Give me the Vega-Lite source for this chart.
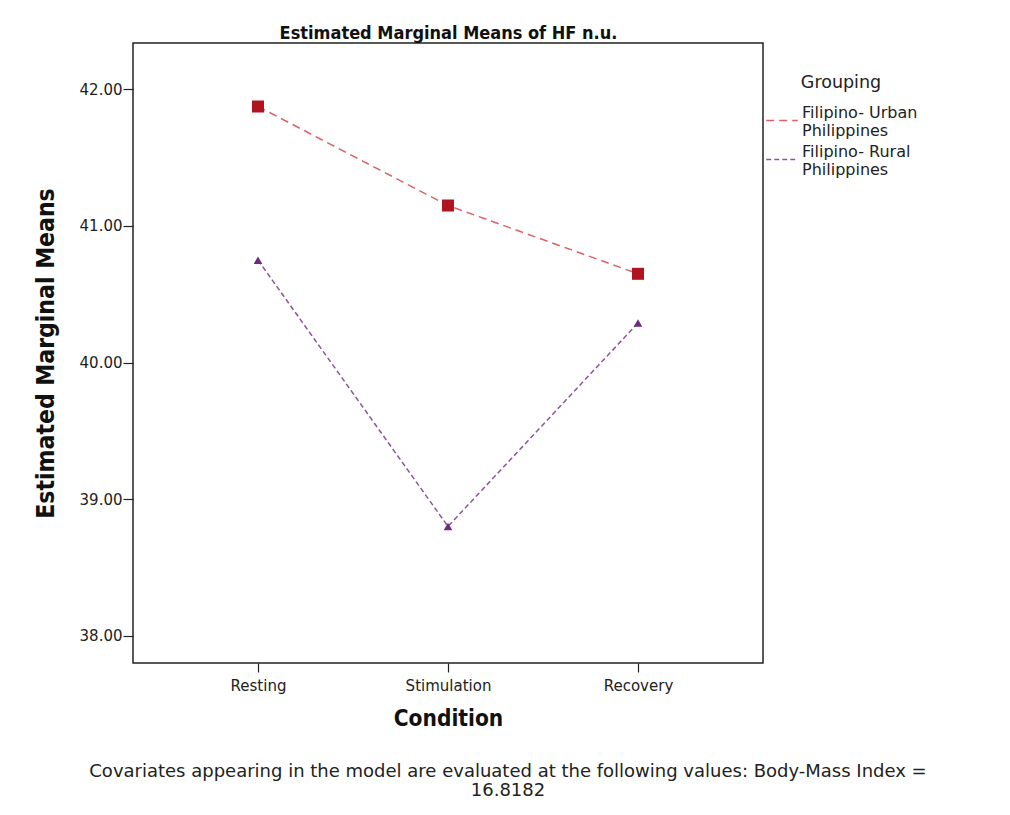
{
  "$schema": "https://vega.github.io/schema/vega-lite/v6.json",
  "width": 630,
  "height": 620,
  "autosize": "none",
  "padding": {"left": 133, "top": 43, "right": 247, "bottom": 152},
  "background": "white",
  "title": {
    "text": ["Covariates appearing in the model are evaluated at the following values: Body-Mass Index =", "16.8182"],
    "orient": "bottom",
    "anchor": "middle",
    "frame": "group",
    "offset": 33,
    "dx": 60,
    "font": "DejaVu Sans",
    "fontSize": 18,
    "fontWeight": "normal",
    "color": "#222",
    "lineHeight": 19
  },
  "data": {
    "values": [
      {"group": "Filipino- Urban Philippines", "condition": "Resting", "mean": 41.875},
      {"group": "Filipino- Urban Philippines", "condition": "Stimulation", "mean": 41.15},
      {"group": "Filipino- Urban Philippines", "condition": "Recovery", "mean": 40.65},
      {"group": "Filipino- Rural Philippines", "condition": "Resting", "mean": 40.75},
      {"group": "Filipino- Rural Philippines", "condition": "Stimulation", "mean": 38.8},
      {"group": "Filipino- Rural Philippines", "condition": "Recovery", "mean": 40.29}
    ]
  },
  "layer": [
    {
      "mark": {"type": "line", "strokeWidth": 1.5},
      "encoding": {
        "x": {
          "field": "condition", "type": "ordinal",
          "sort": ["Resting", "Stimulation", "Recovery"],
          "scale": {"type": "point", "padding": 0.658},
          "axis": {
            "orient": "bottom", "title": "Condition",
            "labelAngle": 0, "labelFont": "DejaVu Sans", "labelFontSize": 15, "labelColor": "#222",
            "labelPadding": 6, "tickSize": 9, "tickColor": "#222", "tickWidth": 1.2, "domain": false,
            "titleFont": "Liberation Sans Narrow, DejaVu Sans Condensed, Liberation Sans", "titleFontSize": 22.5, "titleFontWeight": "bold", "titleColor": "#111", "titlePadding": 14
          }
        },
        "y": {
          "field": "mean", "type": "quantitative",
          "scale": {"domain": [37.8, 42.34], "nice": false, "zero": false},
          "axis": {
            "values": [38, 39, 40, 41, 42], "format": ".2f", "grid": false, "domain": false,
            "title": "Estimated Marginal Means",
            "labelFont": "DejaVu Sans", "labelFontSize": 15, "labelColor": "#222", "labelPadding": 1,
            "tickSize": 10, "tickColor": "#222", "tickWidth": 1.2,
            "titleFont": "Liberation Sans Narrow, DejaVu Sans Condensed, Liberation Sans", "titleFontSize": 24.5, "titleFontWeight": "bold", "titleColor": "#111", "titlePadding": 21
          }
        },
        "stroke": {
          "field": "group", "type": "nominal",
          "scale": {"domain": ["Filipino- Urban Philippines", "Filipino- Rural Philippines"], "range": ["#e0606a", "#8c5599"]},
          "legend": {
            "title": "Grouping", "orient": "none", "legendX": 632, "legendY": 31,
            "titleAnchor": "middle", "titleFont": "DejaVu Sans", "titleFontSize": 17.5, "titleFontWeight": "normal", "titleColor": "#222", "titlePadding": 12,
            "symbolType": "stroke", "symbolSize": 1000, "symbolStrokeWidth": 1.5, "symbolOffset": 0,
            "labelFont": "DejaVu Sans", "labelFontSize": 16, "labelColor": "#222", "labelOffset": 3,
            "labelBaseline": "bottom",
            "labelExpr": "[replace(datum.label, ' Philippines', ''), 'Philippines']",
            "rowPadding": 4
          }
        },
        "strokeDash": {
          "field": "group", "type": "nominal",
          "scale": {"domain": ["Filipino- Urban Philippines", "Filipino- Rural Philippines"], "range": [[8, 5], [5, 3]]},
          "legend": {
            "title": "Grouping", "orient": "none", "legendX": 632, "legendY": 31,
            "titleAnchor": "middle", "titleFont": "DejaVu Sans", "titleFontSize": 17.5, "titleFontWeight": "normal", "titleColor": "#222", "titlePadding": 12,
            "symbolType": "stroke", "symbolSize": 1000, "symbolStrokeWidth": 1.5, "symbolOffset": 0,
            "labelFont": "DejaVu Sans", "labelFontSize": 16, "labelColor": "#222", "labelOffset": 3,
            "labelBaseline": "bottom",
            "labelExpr": "[replace(datum.label, ' Philippines', ''), 'Philippines']",
            "rowPadding": 4
          }
        }
      }
    },
    {
      "transform": [{"filter": "datum.group === 'Filipino- Urban Philippines'"}],
      "mark": {"type": "point", "shape": "square", "filled": true, "opacity": 1, "strokeWidth": 0, "color": "#b0141e", "size": 144},
      "encoding": {
        "x": {
          "field": "condition", "type": "ordinal",
          "sort": ["Resting", "Stimulation", "Recovery"],
          "axis": {
            "orient": "top", "title": "Estimated Marginal Means of HF n.u.",
            "labels": false, "ticks": false, "domain": false,
            "titleFont": "Liberation Sans Narrow, DejaVu Sans Condensed, Liberation Sans", "titleFontSize": 18, "titleFontWeight": "bold", "titleColor": "#111", "titlePadding": 1
          }
        },
        "y": {"field": "mean", "type": "quantitative"}
      }
    },
    {
      "transform": [{"filter": "datum.group === 'Filipino- Rural Philippines'"}],
      "mark": {"type": "point", "shape": "triangle-up", "filled": true, "opacity": 1, "strokeWidth": 0, "color": "#6e2a80", "size": 75},
      "encoding": {
        "x": {
          "field": "condition", "type": "ordinal",
          "sort": ["Resting", "Stimulation", "Recovery"],
          "axis": null
        },
        "y": {"field": "mean", "type": "quantitative"}
      }
    }
  ],
  "resolve": {"axis": {"x": "independent"}},
  "config": {"view": {"stroke": "#222", "strokeWidth": 1.5}}
}
